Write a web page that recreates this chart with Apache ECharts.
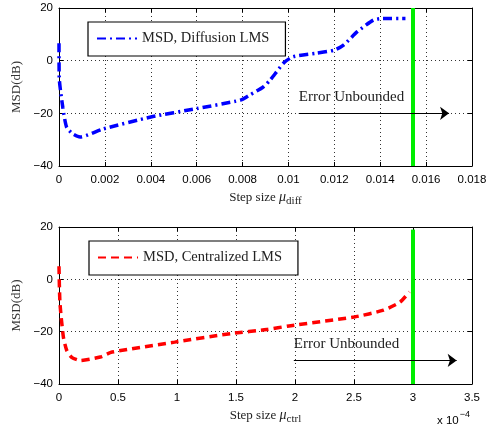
<!DOCTYPE html>
<html>
<head>
<meta charset="utf-8">
<script src="https://cdn.jsdelivr.net/npm/echarts@6/dist/echarts.min.js"></script>
<style>
html, body { margin: 0; background: #fff; }
#chart { width: 493px; height: 433px; }
</style>
</head>
<body>
<div id="chart"></div>
<script>
// step sizes and MSD (dB)
const diffStep = [0, 0.00001, 0.00017, 0.00033, 0.0006, 0.00092, 0.0019, 0.004, 0.006, 0.0079, 0.0083, 0.0089, 0.0092, 0.0098, 0.0102, 0.0112, 0.012, 0.0124, 0.013, 0.0137, 0.0141, 0.0151];
const diffMsd  = [6.6, -6.5, -18, -25.2, -27.8, -29, -26, -21.4, -18.2, -15, -13.1, -10, -7.4, -0.8, 1.5, 2.8, 4, 5.9, 11, 15.4, 16, 16];

const ctrlStep = [0, 0.008, 0.037, 0.065, 0.107, 0.178, 0.35, 0.45, 0.98, 1.46, 1.76, 1.95, 2.5, 2.75, 2.89, 2.97]; // x 1e-4
const ctrlMsd  = [5, -9, -22, -27.1, -29.8, -31, -29.7, -27.8, -24, -20.7, -19.2, -17.8, -14.4, -11.8, -8.7, -4.8];

const diffXTicks = { min: 0, max: 0.018, interval: 0.002 };
const ctrlXTicks = { min: 0, max: 3.5, interval: 0.5 };
const yTicks = { min: -40, max: 20, interval: 20 };

const diffLimit = 0.0154;   // green line
const ctrlLimit = 3.0;
const diffArrow = { from: 0.01045, to: 0.0170, y: -20 };
const ctrlArrow = { from: 1.99, to: 3.37, y: -31 };

const serif = 'Liberation Serif';
const sans = 'Liberation Sans';

const nameRich = {
  a: { fontFamily: serif, fontSize: 13, color: '#222' },
  m: { fontFamily: serif, fontSize: 14, fontStyle: 'italic', color: '#222' },
  s: { fontFamily: serif, fontSize: 11, color: '#222', padding: [8, 0, 0, 0] }
};

const gridDots = { show: true, lineStyle: { type: [1, 3], color: '#333', width: 1 } };
const frame = { show: true, onZero: false, lineStyle: { color: '#000', width: 1 } };
const ticks = { show: true, inside: true, length: 4, lineStyle: { color: '#000' } };

function mainX(gi, t, name, fmt) {
  return {
    gridIndex: gi, type: 'value', min: t.min, max: t.max, interval: t.interval,
    axisLine: frame, axisTick: ticks, splitLine: gridDots,
    axisLabel: { color: '#000', fontFamily: sans, fontSize: 11.5, margin: 8, formatter: fmt },
    name: name, nameLocation: 'middle', nameGap: 22,
    nameTextStyle: { rich: nameRich }
  };
}
function sideX(gi, t) {
  return {
    gridIndex: gi, type: 'value', position: 'top', min: t.min, max: t.max, interval: t.interval,
    axisLine: frame, axisTick: ticks, axisLabel: { show: false }, splitLine: { show: false }
  };
}
function mainY(gi) {
  return {
    gridIndex: gi, type: 'value', min: yTicks.min, max: yTicks.max, interval: yTicks.interval,
    axisLine: frame, axisTick: ticks, splitLine: gridDots,
    axisLabel: { color: '#000', fontFamily: sans, fontSize: 11.5, margin: 6,
      formatter: v => String(v).replace('-', '\u2212') },
    name: 'MSD(dB)', nameLocation: 'middle', nameGap: 31,
    nameTextStyle: { fontFamily: serif, fontSize: 13, color: '#333' }
  };
}
function sideY(gi) {
  return {
    gridIndex: gi, type: 'value', position: 'right', min: yTicks.min, max: yTicks.max, interval: yTicks.interval,
    axisLine: frame, axisTick: ticks, axisLabel: { show: false }, splitLine: { show: false }
  };
}

function marks(limit, arrow, topY) {
  return {
    silent: true, animation: false,
    data: [
      [
        { coord: [limit, topY], symbol: 'none', lineStyle: { color: '#00ee00', width: 4, type: 'solid' }, label: { show: false } },
        { coord: [limit, yTicks.min], symbol: 'none' }
      ],
      [
        { coord: [arrow.from, arrow.y], symbol: 'none', lineStyle: { color: '#000', width: 1.2, type: 'solid' },
          label: { show: true, position: 'insideStartTop', distance: [0, 9], formatter: 'Error Unbounded',
            fontFamily: serif, fontSize: 15, color: '#222' } },
        { coord: [arrow.to, arrow.y], symbol: 'arrow', symbolSize: [10, 9] }
      ]
    ]
  };
}

function legendBox(name, left, top) {
  return {
    data: [name], left: left, top: top,
    itemWidth: 40, itemHeight: 14, padding: [9, 16, 10, 8],
    itemStyle: { opacity: 0 },
    borderColor: '#000', borderWidth: 1.2, borderRadius: 0, backgroundColor: '#fff',
    textStyle: { fontFamily: serif, fontSize: 14.5, color: '#222' }
  };
}

const chart = echarts.init(document.getElementById('chart'));
chart.setOption({
  animation: false,
  backgroundColor: '#fff',
  grid: [
    { left: 59, top: 8, width: 413, height: 158 },
    { left: 59, top: 227, width: 413, height: 157 }
  ],
  xAxis: [
    mainX(0, diffXTicks, '{a|Step size }{m|\u03bc}{s|diff}', v => v === 0 ? '0' : String(+v.toFixed(3))),
    sideX(0, diffXTicks),
    mainX(1, ctrlXTicks, '{a|Step size }{m|\u03bc}{s|ctrl}', v => String(+v.toFixed(1))),
    sideX(1, ctrlXTicks)
  ],
  yAxis: [mainY(0), sideY(0), mainY(1), sideY(1)],
  legend: [
    legendBox('MSD, Diffusion LMS', 88, 22),
    legendBox('MSD, Centralized LMS', 89, 241)
  ],
  series: [
    {
      name: 'MSD, Diffusion LMS', type: 'line', xAxisIndex: 0, yAxisIndex: 0,
      data: diffStep.map((x, i) => [x, diffMsd[i]]),
      showSymbol: false, symbol: 'none', smooth: 0.2,
      lineStyle: { color: '#0000ff', width: 3.5, type: [9, 4, 2, 4] },
      itemStyle: { color: '#0000ff' },
      markLine: marks(diffLimit, diffArrow, yTicks.max)
    },
    {
      name: 'MSD, Centralized LMS', type: 'line', xAxisIndex: 2, yAxisIndex: 2,
      data: ctrlStep.map((x, i) => [x, ctrlMsd[i]]),
      showSymbol: false, symbol: 'none', smooth: 0.2,
      lineStyle: { color: '#ff0000', width: 3.5, type: [8, 5] },
      itemStyle: { color: '#ff0000' },
      markLine: marks(ctrlLimit, ctrlArrow, 19)
    }
  ],
  graphic: [
    {
      type: 'text', left: 437, top: 410,
      style: {
        text: '{a|x 10}{b|\u22124}',
        rich: {
          a: { fontFamily: sans, fontSize: 11.5, fill: '#000', padding: [6, 0, 0, 0] },
          b: { fontFamily: sans, fontSize: 9, fill: '#000', padding: [0, 0, 6, 1] }
        }
      }
    }
  ]
});
</script>
</body>
</html>
